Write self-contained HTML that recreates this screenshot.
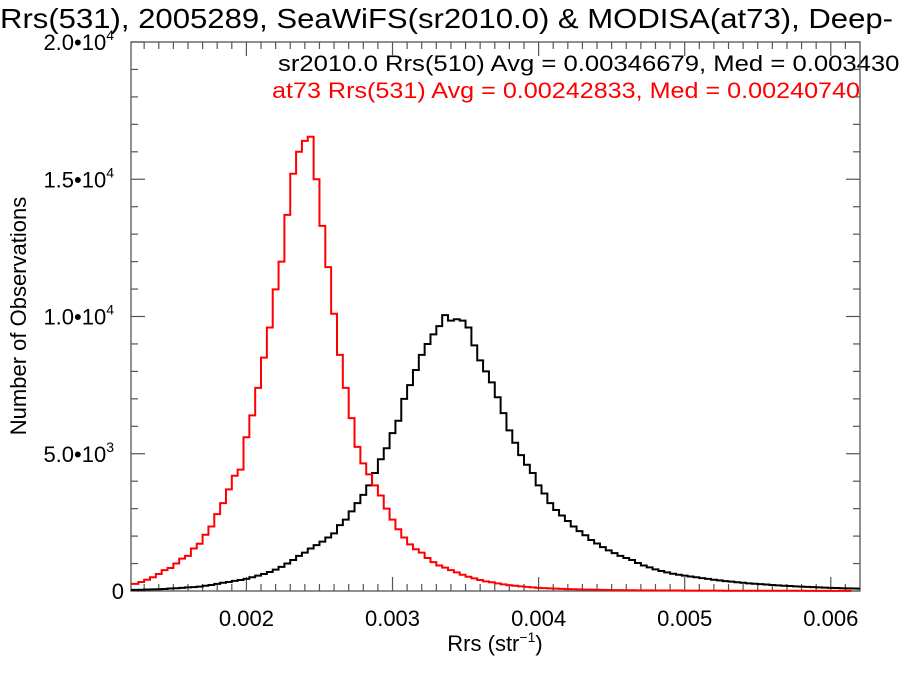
<!DOCTYPE html>
<html><head><meta charset="utf-8">
<style>
html,body{margin:0;padding:0;background:#fff;}
svg{display:block;font-family:"Liberation Sans",Arial,sans-serif;}
</style></head>
<body>
<svg id="chart" width="900" height="675" viewBox="0 0 900 675" xmlns="http://www.w3.org/2000/svg">
  <rect width="900" height="675" fill="#fff"/>
  <text x="0" y="28" font-size="28" textLength="893" lengthAdjust="spacingAndGlyphs">Rrs(531), 2005289, SeaWiFS(sr2010.0) &amp; MODISA(at73), Deep-</text>
  <text x="278" y="71" font-size="22" fill="#000" textLength="650" lengthAdjust="spacingAndGlyphs">sr2010.0 Rrs(510) Avg = 0.00346679, Med = 0.00343000</text>
  <text x="272" y="98" font-size="22" fill="#ff0000" textLength="588" lengthAdjust="spacingAndGlyphs">at73 Rrs(531) Avg = 0.00242833, Med = 0.00240740</text>
  <g id="axes"></g>
  <g id="series"></g>
  <text x="495" y="651" font-size="22" text-anchor="middle">Rrs (str<tspan dy="-9" font-size="14">−1</tspan><tspan dy="9">)</tspan></text>
  <text transform="translate(26,316) rotate(-90)" font-size="22" text-anchor="middle">Number of Observations</text>
</svg>
<script>
const binStart = 0.00122;
const binWidth = 0.00004;
const seawifsCounts = [40,45,55,60,65,75,90,100,115,130,140,160,190,220,260,300,330,370,400,440,500,560,620,690,780,880,1000,1130,1280,1400,1550,1670,1800,1950,2100,2400,2600,2900,3200,3500,3850,4300,4800,5200,5750,6200,7000,7500,8050,8600,9000,9350,9650,10050,9850,9900,9850,9600,8950,8400,8000,7600,7060,6480,5850,5400,4950,4600,4300,3850,3550,3200,2950,2750,2550,2350,2180,2030,1860,1730,1600,1480,1380,1280,1200,1130,1020,930,860,790,730,680,630,590,560,530,500,470,440,410,385,360,340,320,300,280,265,250,235,220,205,190,180,170,160,150,140,130,122,115,108,100,95,90,85];
const modisaCounts = [260,330,410,500,620,760,840,1000,1180,1280,1550,1720,2050,2350,2800,3200,3700,4200,4420,5600,6400,7400,8500,9600,10990,12000,13700,15200,16000,16400,16550,15000,13300,11800,10100,8600,7400,6300,5250,4650,4250,3850,3480,3000,2600,2250,1950,1700,1520,1400,1200,1050,930,850,760,680,590,520,460,400,350,320,280,240,210,190,170,150,130,115,105,95,85,78,70,64,58,52,48,44,40,37,34,31,29,27,25,23,21,20,19,18,17,16,15,15,14,13,13,12,12,11,11,10,10,9,9,9,8,8,8,7,7,7,7,6,6,6,6,5,5,5,5];
const xTicks = [0.002,0.003,0.004,0.005,0.006];
const xTickLabels = ["0.002","0.003","0.004","0.005","0.006"];
const yTicks = [0,5000,10000,15000,20000];
const yTickLabels = ["0","5.0•10","1.0•10","1.5•10","2.0•10"];
const yTickExp = ["","3","4","4","4"];

const X0=131,X1=860,Y0=591,Y1=42;
const xMin=0.00121,xMax=0.0062,yMin=0,yMax=20000;
const xs=v=>X0+(v-xMin)/(xMax-xMin)*(X1-X0);
const ys=v=>Y0-(v-yMin)/(yMax-yMin)*(Y0-Y1);
const NS="http://www.w3.org/2000/svg";
function mk(tag,attrs,parent){const e=document.createElementNS(NS,tag);for(const k in attrs)e.setAttribute(k,attrs[k]);parent.appendChild(e);return e;}
const axes=document.getElementById('axes');
const frame=mk('rect',{x:X0,y:Y1,width:X1-X0,height:Y0-Y1,fill:'none',stroke:'#555','stroke-width':1.3},axes);


for(let k=12;k<=62;k++){
  const v=k*0.0001; if(v<xMin||v>xMax) continue;
  const px=xs(v); const major=(k%10===0); const L=major?14:7;
  const t1=mk('line',{x1:px,y1:Y0,x2:px,y2:Y0-L,stroke:'#555','stroke-width':1.2},axes);
  
  
  const t2=mk('line',{x1:px,y1:Y1,x2:px,y2:Y1+L,stroke:'#555','stroke-width':1.2},axes);
  
  
}
xTicks.forEach((v,i)=>{
  const t=mk('text',{x:xs(v),y:626,'font-size':22,'text-anchor':'middle'},axes);
  t.textContent=xTickLabels[i];
  
  
});
for(let k=0;k<=20;k++){
  const v=k*1000; const py=ys(v); const major=(k%5===0); const L=major?14:7;
  const t1=mk('line',{x1:X0,y1:py,x2:X0+L,y2:py,stroke:'#555','stroke-width':1.2},axes);
  
  
  const t2=mk('line',{x1:X1,y1:py,x2:X1-L,y2:py,stroke:'#555','stroke-width':1.2},axes);
  
  
}
yTicks.forEach((v,i)=>{
  const t=mk('text',{x:yTickExp[i]?114:124,y:ys(v)+8,'font-size':22,'text-anchor':'end'},axes);
  t.textContent=yTickLabels[i];
  if(yTickExp[i]){const s=mk('tspan',{dy:-10,'font-size':14},t);s.textContent=yTickExp[i];}
  
  
});
function stepPath(counts){
  let d='';
  counts.forEach((c,i)=>{
    const a=xs(binStart+i*binWidth), b=xs(binStart+(i+1)*binWidth), y=ys(c);
    d+=(i===0?'M'+X0+','+y:'L'+a+','+y)+'L'+Math.min(b,X1)+','+y;
  });
  return d;
}
const g=document.getElementById('series');
const pb=mk('path',{d:stepPath(seawifsCounts),fill:'none',stroke:'#000','stroke-width':2},g);


const pr=mk('path',{d:stepPath(modisaCounts),fill:'none',stroke:'#ff0000','stroke-width':2},g);


</script>
</body></html>
